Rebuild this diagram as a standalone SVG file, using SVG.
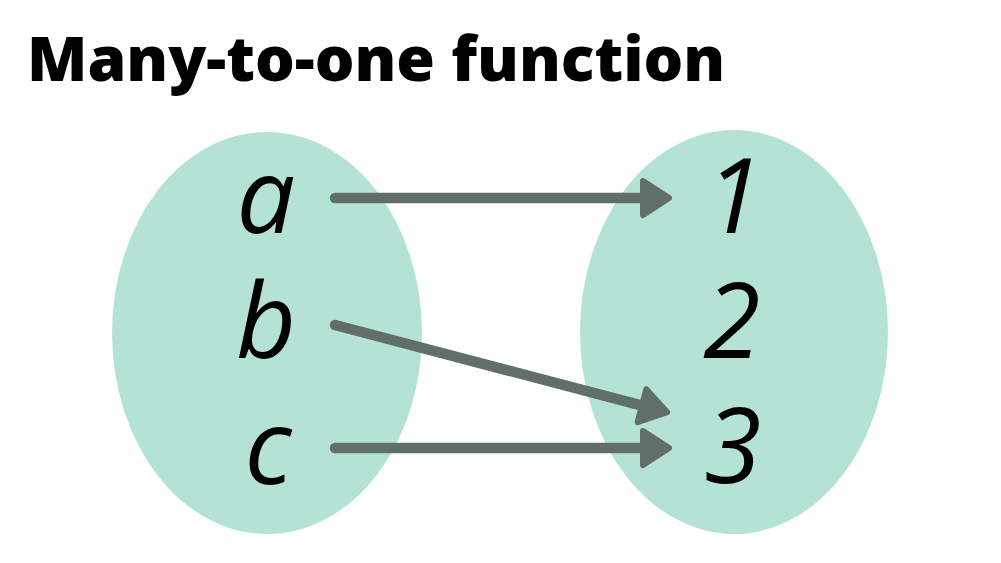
<svg xmlns="http://www.w3.org/2000/svg" width="1001" height="563" viewBox="0 0 1001 563">
  <style>
    .title { font-family: "Open Sans", "Liberation Sans", sans-serif; font-weight: 800; font-size: 62.5px; fill: #000; }
    .set { fill: #b4e3d5; }
    .lbl { font-family: "Open Sans", "Liberation Sans", sans-serif; font-style: italic; font-size: 104px; fill: #000; text-anchor: middle; }
    .conn { stroke: #616e69; stroke-width: 10.5; stroke-linecap: round; fill: none; marker-end: url(#arrow); }
  </style>
  <defs>
    <marker id="arrow" markerUnits="userSpaceOnUse" orient="auto" refX="5" refY="0" markerWidth="60" markerHeight="60" viewBox="-10 -30 50 60" overflow="visible">
      <path d="M0,-17 L26,0 L0,17 Z" fill="#616e69" stroke="#616e69" stroke-width="6" stroke-linejoin="round"/>
    </marker>
  </defs>
  <rect width="1001" height="563" fill="#ffffff"/>
  <text class="title" x="27" y="81">Many-to-one function</text>
  <g id="domain">
    <ellipse class="set" cx="267" cy="333" rx="155" ry="201"/>
  </g>
  <g id="codomain">
    <ellipse class="set" cx="734" cy="332" rx="154" ry="202"/>
  </g>
  <g id="node-a"><text class="lbl" x="266" y="233">a</text></g>
  <g id="node-b"><text class="lbl" x="266" y="358">b</text></g>
  <g id="node-c"><text class="lbl" x="268" y="484">c</text></g>
  <g id="node-1"><text class="lbl" x="734" y="233">1</text></g>
  <g id="node-2"><text class="lbl" x="732" y="358">2</text></g>
  <g id="node-3"><text class="lbl" x="733" y="483">3</text></g>
  <g id="connectors">
    <line class="conn" x1="335" y1="198" x2="648" y2="198"/>
    <line class="conn" x1="335" y1="325" x2="646.8" y2="406.9"/>
    <line class="conn" x1="335" y1="448" x2="648" y2="448"/>
  </g>
</svg>
